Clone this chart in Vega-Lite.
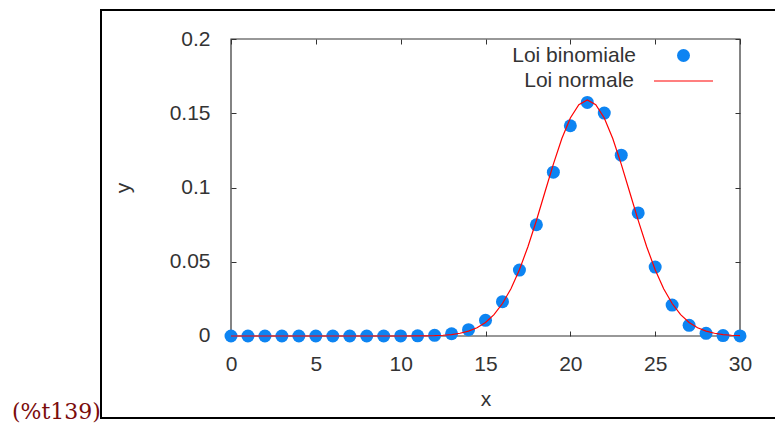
{
  "$schema": "https://vega.github.io/schema/vega-lite/v6.json",
  "width": 684,
  "height": 408,
  "autosize": "none",
  "padding": {"left": 101, "top": 10, "right": 0, "bottom": 5},
  "background": "white",
  "title": {
    "text": "(%t139)",
    "orient": "bottom",
    "anchor": "start",
    "frame": "group",
    "align": "left",
    "font": "DejaVu Serif",
    "fontSize": 22,
    "fontWeight": "normal",
    "color": "#7b0c0c",
    "dx": -89,
    "dy": -20
  },
  "config": {
    "view": {"stroke": "#000000", "strokeWidth": 2},
    "axis": {
      "grid": false,
      "domain": false,
      "labelFont": "Liberation Sans",
      "labelFontSize": 21,
      "labelColor": "#333333",
      "titleFont": "Liberation Sans",
      "titleFontSize": 21,
      "titleFontWeight": "normal",
      "titleColor": "#333333",
      "tickColor": "#333333",
      "tickWidth": 1,
      "tickSize": -5,
      "labelFlush": false,
      "labelOverlap": false
    },
    "legend": {
      "orient": "none",
      "title": null,
      "padding": 0,
      "labelAlign": "right",
      "labelFont": "Liberation Sans",
      "labelFontSize": 21,
      "labelColor": "#333333",
      "labelBaseline": "middle"
    }
  },
  "datasets": {
    "binomiale": [
      {"serie": "Loi binomiale", "x": 0, "y": 0},
      {"serie": "Loi binomiale", "x": 1, "y": 0},
      {"serie": "Loi binomiale", "x": 2, "y": 0},
      {"serie": "Loi binomiale", "x": 3, "y": 0},
      {"serie": "Loi binomiale", "x": 4, "y": 0},
      {"serie": "Loi binomiale", "x": 5, "y": 0},
      {"serie": "Loi binomiale", "x": 6, "y": 0},
      {"serie": "Loi binomiale", "x": 7, "y": 0},
      {"serie": "Loi binomiale", "x": 8, "y": 0.000001},
      {"serie": "Loi binomiale", "x": 9, "y": 0.000006},
      {"serie": "Loi binomiale", "x": 10, "y": 0.00003},
      {"serie": "Loi binomiale", "x": 11, "y": 0.000126},
      {"serie": "Loi binomiale", "x": 12, "y": 0.000464},
      {"serie": "Loi binomiale", "x": 13, "y": 0.0015},
      {"serie": "Loi binomiale", "x": 14, "y": 0.00425},
      {"serie": "Loi binomiale", "x": 15, "y": 0.01057},
      {"serie": "Loi binomiale", "x": 16, "y": 0.0231},
      {"serie": "Loi binomiale", "x": 17, "y": 0.0444},
      {"serie": "Loi binomiale", "x": 18, "y": 0.0749},
      {"serie": "Loi binomiale", "x": 19, "y": 0.1103},
      {"serie": "Loi binomiale", "x": 20, "y": 0.1416},
      {"serie": "Loi binomiale", "x": 21, "y": 0.1573},
      {"serie": "Loi binomiale", "x": 22, "y": 0.1501},
      {"serie": "Loi binomiale", "x": 23, "y": 0.1218},
      {"serie": "Loi binomiale", "x": 24, "y": 0.0829},
      {"serie": "Loi binomiale", "x": 25, "y": 0.0464},
      {"serie": "Loi binomiale", "x": 26, "y": 0.0208},
      {"serie": "Loi binomiale", "x": 27, "y": 0.00719},
      {"serie": "Loi binomiale", "x": 28, "y": 0.0018},
      {"serie": "Loi binomiale", "x": 29, "y": 0.000289},
      {"serie": "Loi binomiale", "x": 30, "y": 0.0000225}
    ],
    "normale": [
      {"serie": "Loi normale", "x": 0, "y": 0},
      {"serie": "Loi normale", "x": 5, "y": 0},
      {"serie": "Loi normale", "x": 9, "y": 0.0000017},
      {"serie": "Loi normale", "x": 10, "y": 0.0000107},
      {"serie": "Loi normale", "x": 11, "y": 0.0000568},
      {"serie": "Loi normale", "x": 12, "y": 0.000257},
      {"serie": "Loi normale", "x": 12.5, "y": 0.000514},
      {"serie": "Loi normale", "x": 13, "y": 0.000989},
      {"serie": "Loi normale", "x": 13.5, "y": 0.001831},
      {"serie": "Loi normale", "x": 14, "y": 0.003254},
      {"serie": "Loi normale", "x": 14.5, "y": 0.00556},
      {"serie": "Loi normale", "x": 15, "y": 0.00913},
      {"serie": "Loi normale", "x": 15.5, "y": 0.01441},
      {"serie": "Loi normale", "x": 16, "y": 0.02186},
      {"serie": "Loi normale", "x": 16.5, "y": 0.03187},
      {"serie": "Loi normale", "x": 17, "y": 0.04465},
      {"serie": "Loi normale", "x": 17.5, "y": 0.06012},
      {"serie": "Loi normale", "x": 18, "y": 0.07781},
      {"serie": "Loi normale", "x": 18.5, "y": 0.09679},
      {"serie": "Loi normale", "x": 19, "y": 0.11571},
      {"serie": "Loi normale", "x": 19.5, "y": 0.13295},
      {"serie": "Loi normale", "x": 20, "y": 0.14681},
      {"serie": "Loi normale", "x": 20.5, "y": 0.15582},
      {"serie": "Loi normale", "x": 21, "y": 0.15894},
      {"serie": "Loi normale", "x": 21.5, "y": 0.15582},
      {"serie": "Loi normale", "x": 22, "y": 0.14681},
      {"serie": "Loi normale", "x": 22.5, "y": 0.13295},
      {"serie": "Loi normale", "x": 23, "y": 0.11571},
      {"serie": "Loi normale", "x": 23.5, "y": 0.09679},
      {"serie": "Loi normale", "x": 24, "y": 0.07781},
      {"serie": "Loi normale", "x": 24.5, "y": 0.06012},
      {"serie": "Loi normale", "x": 25, "y": 0.04465},
      {"serie": "Loi normale", "x": 25.5, "y": 0.03187},
      {"serie": "Loi normale", "x": 26, "y": 0.02186},
      {"serie": "Loi normale", "x": 26.5, "y": 0.01441},
      {"serie": "Loi normale", "x": 27, "y": 0.00913},
      {"serie": "Loi normale", "x": 27.5, "y": 0.00556},
      {"serie": "Loi normale", "x": 28, "y": 0.003254},
      {"serie": "Loi normale", "x": 28.5, "y": 0.001831},
      {"serie": "Loi normale", "x": 29, "y": 0.000989},
      {"serie": "Loi normale", "x": 29.5, "y": 0.000514},
      {"serie": "Loi normale", "x": 30, "y": 0.000257}
    ]
  },
  "resolve": {
    "axis": {"x": "independent", "y": "independent"},
    "scale": {"color": "independent"},
    "legend": {"color": "independent"}
  },
  "layer": [
    {
      "description": "Inner plot frame spanning x 0-30 and y 0-0.2, carrying the bottom and left axes",
      "data": {"values": [{}]},
      "mark": {"type": "rect", "fill": null, "stroke": "#333333", "strokeWidth": 1.2},
      "encoding": {
        "x": {
          "datum": 0,
          "type": "quantitative",
          "scale": {"domain": [-7.662, 32.652], "nice": false, "zero": false},
          "axis": {
            "orient": "bottom",
            "offset": -82,
            "values": [0, 5, 10, 15, 20, 25, 30],
            "labelPadding": 22,
            "title": "x",
            "titleX": 384.5,
            "titleY": 63,
            "titleAlign": "center",
            "titleBaseline": "middle"
          }
        },
        "x2": {"datum": 30},
        "y": {
          "datum": 0,
          "type": "quantitative",
          "scale": {"domain": [-0.05522, 0.21953], "nice": false, "zero": false},
          "axis": {
            "orient": "left",
            "offset": -130,
            "values": [0, 0.05, 0.1, 0.15, 0.2],
            "format": "~g",
            "labelPadding": 26,
            "title": "y",
            "titleX": -108,
            "titleY": 177.5,
            "titleAngle": -90,
            "titleAlign": "center",
            "titleBaseline": "middle"
          }
        },
        "y2": {"datum": 0.2}
      }
    },
    {
      "description": "Binomial probabilities, with the mirrored top and right ticks",
      "data": {"name": "binomiale"},
      "mark": {"type": "point", "filled": true, "size": 169, "opacity": 1, "shape": "circle"},
      "encoding": {
        "x": {
          "field": "x",
          "type": "quantitative",
          "axis": {
            "orient": "top",
            "offset": -29,
            "values": [0, 5, 10, 15, 20, 25, 30],
            "labels": false,
            "title": null
          }
        },
        "y": {
          "field": "y",
          "type": "quantitative",
          "axis": {
            "orient": "right",
            "offset": -45,
            "values": [0, 0.05, 0.1, 0.15, 0.2],
            "labels": false,
            "title": null
          }
        },
        "color": {
          "field": "serie",
          "type": "nominal",
          "scale": {"domain": ["Loi binomiale"], "range": ["#0d84f2"]},
          "legend": {
            "legendX": 572,
            "legendY": 35,
            "labelOffset": -58,
            "symbolType": "circle",
            "symbolSize": 169
          }
        }
      }
    },
    {
      "description": "Normal density curve",
      "data": {"name": "normale"},
      "mark": {"type": "line", "strokeWidth": 1.2},
      "encoding": {
        "x": {"field": "x", "type": "quantitative", "axis": null},
        "y": {"field": "y", "type": "quantitative", "axis": null},
        "color": {
          "field": "serie",
          "type": "nominal",
          "scale": {"domain": ["Loi normale"], "range": ["#ff0000"]},
          "legend": {
            "legendX": 552,
            "legendY": 40.5,
            "labelOffset": -80,
            "symbolType": "stroke",
            "symbolSize": 3481,
            "symbolStrokeWidth": 1.2
          }
        }
      }
    }
  ]
}
